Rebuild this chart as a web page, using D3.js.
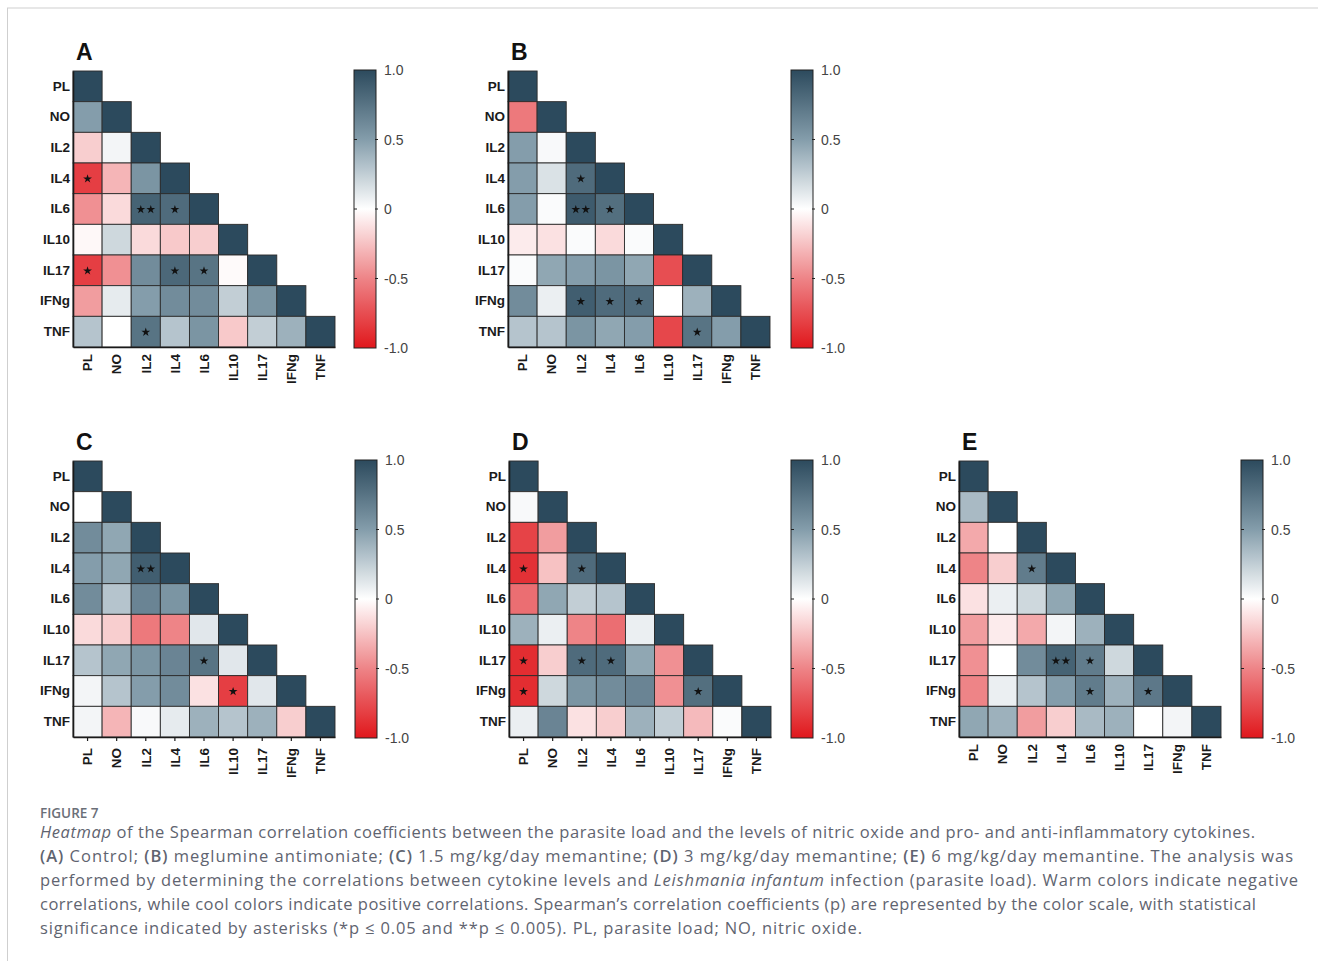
<!DOCTYPE html>
<html>
<head>
<meta charset="utf-8">
<script src="https://cdn.jsdelivr.net/npm/d3@7"></script>
<style>
  body { margin: 0; background: #fff; }
  svg { display: block; }
  .tick text { font-family: "Liberation Sans", Arial, sans-serif; }
</style>
</head>
<body>
<svg id="fig" width="1329" height="961"></svg>
<script>
(function(){
	'use strict';

	// variables (rows / columns of every matrix)
	var vars = ['PL', 'NO', 'IL2', 'IL4', 'IL6', 'IL10', 'IL17', 'IFNg', 'TNF'];
	var barTicks = [1, 0.5, 0, -0.5, -1];
	var barTickLabels = ['1.0', '0.5', '0', '-0.5', '-1.0'];

	// lower triangle of spearman rho, row by row
	var rhoA = [
		[1],
		[0.5, 1],
		[-0.2, 0.05, 1],
		[-0.82, -0.3, 0.55, 1],
		[-0.45, -0.15, 0.85, 0.8, 1],
		[-0.03, 0.2, -0.15, -0.22, -0.2, 1],
		[-0.82, -0.45, 0.6, 0.82, 0.75, -0.02, 1],
		[-0.4, 0.1, 0.5, 0.6, 0.6, 0.25, 0.55, 1],
		[0.3, 0.0, 0.75, 0.3, 0.55, -0.22, 0.25, 0.4, 1]
	];
	var rhoB = [
		[1],
		[-0.55, 1],
		[0.5, 0.03, 1],
		[0.5, 0.15, 0.8, 1],
		[0.5, 0.02, 0.9, 0.78, 1],
		[-0.08, -0.12, 0.02, -0.15, 0.02, 1],
		[0.02, 0.45, 0.5, 0.55, 0.45, -0.75, 1],
		[0.6, 0.08, 0.88, 0.8, 0.8, 0.0, 0.4, 1],
		[0.3, 0.3, 0.55, 0.45, 0.5, -0.78, 0.75, 0.5, 1]
	];
	var rhoC = [
		[1],
		[0.0, 1],
		[0.6, 0.45, 1],
		[0.5, 0.45, 0.88, 1],
		[0.6, 0.3, 0.65, 0.55, 1],
		[-0.15, -0.2, -0.55, -0.5, 0.12, 1],
		[0.3, 0.45, 0.55, 0.65, 0.75, 0.12, 1],
		[0.05, 0.3, 0.5, 0.6, -0.12, -0.82, 0.12, 1],
		[0.05, -0.3, 0.03, 0.1, 0.4, 0.3, 0.4, -0.2, 1]
	];
	var rhoD = [
		[1],
		[0.03, 1],
		[-0.8, -0.4, 1],
		[-0.88, -0.25, 0.8, 1],
		[-0.6, 0.45, 0.25, 0.3, 1],
		[0.4, 0.08, -0.5, -0.6, 0.08, 1],
		[-0.9, -0.2, 0.8, 0.8, 0.45, -0.45, 1],
		[-0.9, 0.2, 0.55, 0.6, 0.65, -0.45, 0.78, 1],
		[0.08, 0.65, -0.12, -0.2, 0.4, 0.25, -0.28, 0.02, 1]
	];
	var rhoE = [
		[1],
		[0.35, 1],
		[-0.35, 0.0, 1],
		[-0.5, -0.2, 0.7, 1],
		[-0.12, 0.08, 0.2, 0.45, 1],
		[-0.4, -0.08, -0.35, 0.05, 0.4, 1],
		[-0.45, 0.0, 0.6, 0.85, 0.7, 0.2, 1],
		[-0.5, 0.08, 0.3, 0.5, 0.7, 0.4, 0.72, 1],
		[0.45, 0.4, -0.4, -0.2, 0.35, 0.4, 0.0, 0.05, 1]
	];

	// asterisks: [row, column, count]
	var sigA = [['IL4','PL',1], ['IL6','IL2',2], ['IL6','IL4',1], ['IL17','PL',1], ['IL17','IL4',1], ['IL17','IL6',1], ['TNF','IL2',1]];
	var sigB = [['IL4','IL2',1], ['IL6','IL2',2], ['IL6','IL4',1], ['IFNg','IL2',1], ['IFNg','IL4',1], ['IFNg','IL6',1], ['TNF','IL17',1]];
	var sigC = [['IL4','IL2',2], ['IL17','IL6',1], ['IFNg','IL10',1]];
	var sigD = [['IL4','PL',1], ['IL4','IL2',1], ['IL17','PL',1], ['IL17','IL2',1], ['IL17','IL4',1], ['IFNg','PL',1], ['IFNg','IL17',1]];
	var sigE = [['IL4','IL2',1], ['IL17','IL4',2], ['IL17','IL6',1], ['IFNg','IL6',1], ['IFNg','IL17',1]];

	var captionLines = [
		[['i','Heatmap'], ['',' of the Spearman correlation coefficients between the parasite load and the levels of nitric oxide and pro- and anti-inflammatory cytokines.']],
		[['b','(A)'], ['',' Control; '], ['b','(B)'], ['',' meglumine antimoniate; '], ['b','(C)'], ['',' 1.5 mg/kg/day memantine; '], ['b','(D)'], ['',' 3 mg/kg/day memantine; '], ['b','(E)'], ['',' 6 mg/kg/day memantine. The analysis was']],
		[['','performed by determining the correlations between cytokine levels and '], ['i','Leishmania infantum'], ['',' infection (parasite load). Warm colors indicate negative']],
		[['','correlations, while cool colors indicate positive correlations. Spearman\u2019s correlation coefficients (p) are represented by the color scale, with statistical']],
		[['','significance indicated by asterisks (*p \u2264 0.05 and **p \u2264 0.005). PL, parasite load; NO, nitric oxide.']]
	];
	var captionWidths = [1215, 1253, 1258, 1216, 822];

	var panels = [
		{ name: 'A', rho: rhoA, sig: sigA, left: 73,  top: 71,  bar: 354,  ticks: 0 },
		{ name: 'B', rho: rhoB, sig: sigB, left: 508, top: 71,  bar: 791,  ticks: 0 },
		{ name: 'C', rho: rhoC, sig: sigC, left: 73,  top: 461, bar: 355,  ticks: 4 },
		{ name: 'D', rho: rhoD, sig: sigD, left: 509, top: 461, bar: 791,  ticks: 4 },
		{ name: 'E', rho: rhoE, sig: sigE, left: 959, top: 461, bar: 1241, ticks: 0 }
	];

	var gridW = 262, gridH = 276;
	var barW = 22, barTop = -1, barH = 278;

	var color = d3.scaleLinear()
		.domain([-1, -0.5, 0, 0.5, 1])
		.range(['#e0171c', '#ee8487', '#ffffff', '#849dab', '#2c4a5d']);

	var svg = d3.select('#fig');

	// frame lines
	svg.append('line').attr('x1', 7).attr('x2', 1318).attr('y1', 8).attr('y2', 8)
		.attr('stroke', '#cfcfcf').attr('stroke-width', 1);
	svg.append('line').attr('x1', 7.5).attr('x2', 7.5).attr('y1', 8).attr('y2', 961)
		.attr('stroke', '#cfcfcf').attr('stroke-width', 1);

	// gradient for colour bars
	var grad = svg.append('defs').append('linearGradient')
		.attr('id', 'rhoGrad').attr('x1', 0).attr('x2', 0).attr('y1', 0).attr('y2', 1);
	d3.range(0, 1.0001, 0.05).forEach(function(t){
		grad.append('stop').attr('offset', t).attr('stop-color', color(1 - 2 * t));
	});

	function drawPanel(p){
		var g = svg.append('g');
		var x = d3.scaleBand().domain(vars).range([p.left, p.left + gridW]);
		var y = d3.scaleBand().domain(vars).range([p.top, p.top + gridH]);

		var cells = [];
		p.rho.forEach(function(row, i){
			row.forEach(function(v, j){
				cells.push({ r: vars[i], c: vars[j], v: v });
			});
		});

		g.selectAll('rect.cell')
			.data(cells)
			.enter()
			.append('rect')
				.attr('class', 'cell')
				.attr('x', (d) => x(d.c))
				.attr('y', (d) => y(d.r))
				.attr('width', x.bandwidth())
				.attr('height', y.bandwidth())
				.attr('fill', (d) => color(d.v))
				.attr('stroke', '#2b2b2b')
				.attr('stroke-width', 0.9);

		// stars
		var star = d3.symbol().type(d3.symbolStar).size(24);
		p.sig.forEach(function(s){
			var cx = x(s[1]) + x.bandwidth() / 2, cy = y(s[0]) + y.bandwidth() / 2;
			var offs = s[2] === 2 ? [-5, 5] : [0];
			offs.forEach(function(o){
				g.append('path').attr('d', star)
					.attr('transform', 'translate(' + (cx + o) + ',' + (cy + 0.5) + ')')
					.attr('fill', '#111');
			});
		});

		// axes
		var ax = g.append('g')
			.attr('transform', 'translate(0,' + (p.top + gridH) + ')')
			.call(d3.axisBottom(x).tickSize(p.ticks).tickSizeOuter(0));
		ax.selectAll('.tick text')
			.attr('transform', 'rotate(-90)')
			.attr('x', -(p.ticks + 7))
			.attr('y', 0)
			.attr('dy', '0.35em')
			.style('text-anchor', 'end')
			.style('font-size', '13.5px')
			.style('font-weight', 'bold')
			.attr('fill', '#1a1a1a');
		ax.select('.domain').attr('stroke', '#1a1a1a').attr('stroke-width', 1.6);
		ax.selectAll('.tick line').attr('stroke', '#1a1a1a').attr('stroke-width', 1.2);

		var ay = g.append('g')
			.attr('transform', 'translate(' + p.left + ',0)')
			.call(d3.axisLeft(y).tickSize(0).tickPadding(3));
		ay.selectAll('.tick text')
			.style('font-size', '13.5px')
			.style('font-weight', 'bold')
			.attr('fill', '#1a1a1a');
		ay.select('.domain').attr('stroke', '#1a1a1a').attr('stroke-width', 1.6);

		// panel letter
		g.append('text')
			.attr('x', p.left + 3)
			.attr('y', p.top - 11)
			.attr('font-family', '"Liberation Sans", Arial, sans-serif')
			.attr('font-weight', 'bold')
			.attr('font-size', 23)
			.attr('fill', '#111')
			.text(p.name);

		// colour bar
		var cb = d3.scaleLinear().domain([1, -1]).range([p.top + barTop, p.top + barTop + barH]);
		g.append('rect')
			.attr('x', p.bar).attr('y', cb(1))
			.attr('width', barW).attr('height', barH)
			.attr('fill', 'url(#rhoGrad)')
			.attr('stroke', '#222').attr('stroke-width', 1);
		var cax = g.append('g')
			.attr('transform', 'translate(' + (p.bar + barW) + ',0)')
			.call(d3.axisRight(cb).tickValues(barTicks).tickSize(0).tickPadding(8)
				.tickFormat((d, i) => barTickLabels[i]));
		cax.select('.domain').remove();
		cax.selectAll('.tick text')
			.style('font-size', '14px')
			.attr('fill', '#444')
			.attr('dy', '0.35em');
		// small ticks at both edges of the bar
		[0.5, 0, -0.5].forEach(function(t){
			g.append('line').attr('x1', p.bar).attr('x2', p.bar + 3)
				.attr('y1', cb(t)).attr('y2', cb(t)).attr('stroke', '#222');
			g.append('line').attr('x1', p.bar + barW - 1).attr('x2', p.bar + barW + 2)
				.attr('y1', cb(t)).attr('y2', cb(t)).attr('stroke', '#222');
		});
	}

	panels.forEach(drawPanel);

	// caption
	var cap = svg.append('g').attr('font-family', '"Open Sans", Lato, sans-serif').attr('fill', '#5f6470');
	cap.append('text').attr('x', 40).attr('y', 818)
		.attr('font-size', 13.5).attr('font-weight', 600).attr('fill', '#6b6f78').text('FIGURE 7');
	captionLines.forEach(function(line, i){
		var t = cap.append('text')
			.attr('x', 40).attr('y', 838 + i * 24)
			.attr('font-size', 16.5)
			.attr('textLength', captionWidths[i])
			.attr('lengthAdjust', 'spacing');
		line.forEach(function(seg){
			var s = t.append('tspan').text(seg[1]);
			if (seg[0] === 'i') s.attr('font-style', 'italic');
			if (seg[0] === 'b') s.attr('font-weight', 600);
		});
	});

})();
</script>
</body>
</html>
